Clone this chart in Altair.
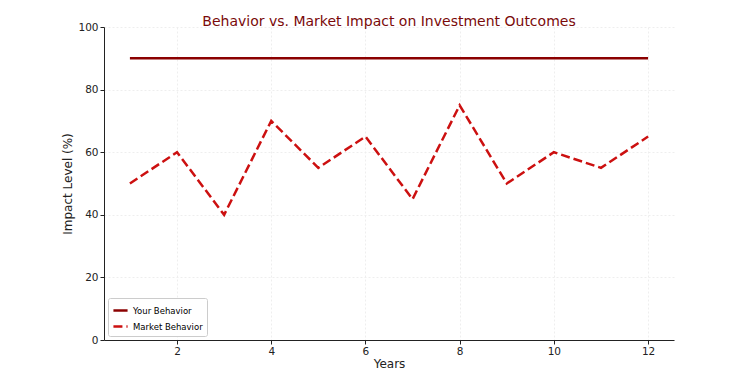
import altair as alt
import pandas as pd

years = list(range(1, 13))
your_behavior = [90] * 12
market_behavior = [50, 60, 40, 70, 55, 65, 45, 75, 50, 60, 55, 65]
series_names = ["Your Behavior", "Market Behavior"]

df = pd.DataFrame({
    "Years": years * 2,
    "Impact": your_behavior + market_behavior,
    "Series": [series_names[0]] * 12 + [series_names[1]] * 12,
})

font = "DejaVu Sans"

chart = alt.Chart(df).mark_line(strokeWidth=2.5).encode(
    x=alt.X("Years:Q", scale=alt.Scale(domain=[0.45, 12.55], nice=False, zero=False),
            axis=alt.Axis(values=[2, 4, 6, 8, 10, 12], title="Years", format="d")),
    y=alt.Y("Impact:Q", scale=alt.Scale(domain=[0, 100], nice=False),
            axis=alt.Axis(values=[0, 20, 40, 60, 80, 100], title="Impact Level (%)")),
    color=alt.Color("Series:N", scale=alt.Scale(domain=series_names, range=["#8B0000", "#CC1010"]),
                    legend=alt.Legend(title=None, orient="bottom-left", symbolType="stroke",
                                      symbolStrokeWidth=2.5, symbolSize=200,
                                      labelFontSize=8.5, labelFont=font, rowPadding=2,
                                      strokeColor="#cccccc", fillColor="white",
                                      padding=4, cornerRadius=2, offset=4)),
    strokeDash=alt.StrokeDash("Series:N", scale=alt.Scale(domain=series_names, range=[[1, 0], [9, 4]]), legend=None),
).properties(
    width=570, height=313,
    title=alt.TitleParams("Behavior vs. Market Impact on Investment Outcomes",
                          color="#7a0a0a", fontSize=14, font=font, fontWeight="normal", offset=0, dy=7),
    padding={"left": 96, "top": 19, "right": 60, "bottom": 30},
    autosize=alt.AutoSizeParams(type="none"),
).configure_view(stroke=None).configure_axis(
    labelFont=font, titleFont=font, labelFontSize=10.5, titleFontSize=12,
    titleFontWeight="normal", labelColor="#222", titleColor="#222",
    domainColor="#222", tickColor="#222", gridColor="#eeeeee", gridDash=[2, 2],
    tickSize=4,
).configure_axisX(titlePadding=2).configure_axisY(titlePadding=3)

chart.save("out.html", embed_options={"renderer": "svg", "actions": False})
